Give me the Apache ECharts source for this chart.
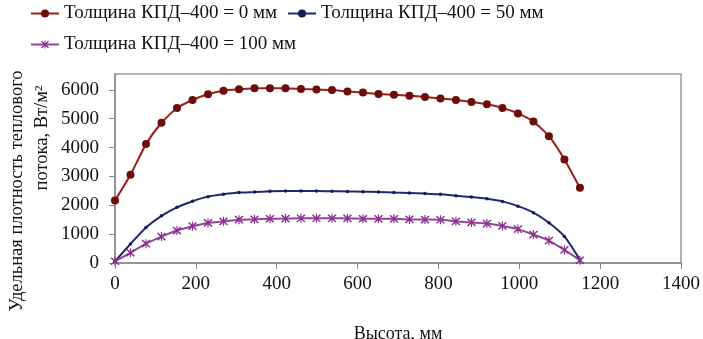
<!DOCTYPE html>
<html>
<head>
<meta charset="utf-8">
<script src="https://cdn.jsdelivr.net/npm/echarts@6/dist/echarts.min.js"></script>
<style>
  html, body { margin: 0; padding: 0; background: #fff; }
  #chart { width: 703px; height: 339px; }
</style>
</head>
<body>
<div id="chart"></div>
<script>
// Высота, мм
const heights = [0, 38.3, 76.7, 115, 153.3, 191.7, 230, 268.3, 306.7, 345, 383.3, 421.7, 460, 498.3,
  536.7, 575, 613.3, 651.7, 690, 728.3, 766.7, 805, 843.3, 881.7, 920, 958.3, 996.7, 1035,
  1073.3, 1111.7, 1150];

// Удельная плотность теплового потока, Вт/м²
const flux0 = [2170, 3060, 4120, 4860, 5370, 5650, 5850, 5970, 6020, 6055, 6060, 6060, 6030, 6010,
  5995, 5945, 5905, 5855, 5830, 5795, 5755, 5700, 5650, 5580, 5500, 5375, 5185, 4900, 4395, 3590, 2605];
const flux50 = [60, 660, 1230, 1635, 1930, 2140, 2300, 2380, 2440, 2460, 2485, 2495, 2495, 2495,
  2485, 2480, 2470, 2460, 2440, 2425, 2405, 2380, 2330, 2285, 2225, 2135, 1970, 1745, 1395, 920, 110];
const flux100 = [60, 355, 670, 915, 1125, 1275, 1390, 1445, 1500, 1515, 1533, 1540, 1550, 1550,
  1550, 1545, 1533, 1530, 1530, 1509, 1505, 1498, 1445, 1405, 1365, 1285, 1175, 985, 777, 453, 95];

const seriesNames = ['Толщина КПД–400 = 0 мм', 'Толщина КПД–400 = 50 мм', 'Толщина КПД–400 = 100 мм'];
const xTicks = [0, 200, 400, 600, 800, 1000, 1200, 1400];
const yTicks = [0, 1000, 2000, 3000, 4000, 5000, 6000];

const FONT = 'Liberation Serif';
const pair = vals => heights.map((h, i) => [h, vals[i]]);
const plain = v => String(v);

// asterisk marker: vertical bar plus two diagonals
const asterisk = 'path://M-0.6,-5 L0.6,-5 L0.6,5 L-0.6,5 Z ' +
  'M-3.45,-4.55 L4.55,3.45 L3.45,4.55 L-4.55,-3.45 Z ' +
  'M-4.55,3.45 L3.45,-4.55 L4.55,-3.45 L-3.45,4.55 Z';

const chart = echarts.init(document.getElementById('chart'), null, { renderer: 'canvas' });

const legendBase = {
  orient: 'horizontal',
  itemWidth: 28,
  itemHeight: 10,
  itemGap: 4,
  textStyle: { fontFamily: FONT, fontSize: 19, color: '#111' },
  padding: 0
};

chart.setOption({
  animation: false,
  backgroundColor: '#fff',
  grid: {
    left: 115, right: 22, top: 74, bottom: 76,
    outerBoundsMode: 'none', containLabel: false,
    show: true, borderColor: '#9a9a9a', borderWidth: 1.5, backgroundColor: 'transparent'
  },
  legend: [
    Object.assign({}, legendBase, { data: [seriesNames[0]], left: 30, top: 4 }),
    Object.assign({}, legendBase, { data: [seriesNames[1]], left: 287, top: 4 }),
    Object.assign({}, legendBase, { data: [seriesNames[2]], left: 30, top: 35 })
  ],
  xAxis: {
    type: 'value', min: 0, max: 1400, interval: 200,
    name: 'Высота, мм', nameLocation: 'middle', nameGap: 62,
    nameTextStyle: { fontFamily: FONT, fontSize: 18, color: '#111' },
    axisLine: { show: true, lineStyle: { color: '#8a8a8a', width: 1.5 } },
    axisTick: { show: true, inside: false, length: 6, lineStyle: { color: '#8a8a8a' } },
    axisLabel: { fontFamily: FONT, fontSize: 19, color: '#111', margin: 12, customValues: xTicks, formatter: plain },
    splitLine: { show: false }
  },
  yAxis: {
    type: 'value', min: 0, max: 6550,
    axisLine: { show: true, lineStyle: { color: '#8a8a8a', width: 1.5 } },
    axisTick: { show: true, inside: false, length: 6, lineStyle: { color: '#8a8a8a' }, customValues: yTicks },
    axisLabel: { fontFamily: FONT, fontSize: 19, color: '#111', margin: 16, customValues: yTicks, formatter: plain },
    splitLine: { show: false }
  },
  graphic: [
    {
      type: 'text', x: 17, y: 191, rotation: Math.PI / 2,
      style: {
        text: 'Удельная плотность теплового', fontFamily: FONT, fontSize: 18.5,
        fill: '#111', align: 'center', verticalAlign: 'middle'
      }
    },
    {
      type: 'text', x: 42, y: 138, rotation: Math.PI / 2,
      style: {
        text: 'потока, Вт/м²', fontFamily: FONT, fontSize: 18.5,
        fill: '#111', align: 'center', verticalAlign: 'middle'
      }
    }
  ],
  series: [
    {
      name: seriesNames[0], type: 'line', data: pair(flux0),
      symbol: 'circle', symbolSize: 8, smooth: 0.2,
      lineStyle: { color: '#9c1b1b', width: 2 },
      itemStyle: { color: '#6e0c0c', borderWidth: 0 },
      z: 3
    },
    {
      name: seriesNames[1], type: 'line', data: pair(flux50),
      symbol: 'circle', symbolSize: 3.5, smooth: 0.2,
      lineStyle: { color: '#1f2a6e', width: 2 },
      itemStyle: { color: '#141c55', borderWidth: 0 },
      z: 2
    },
    {
      name: seriesNames[2], type: 'line', data: pair(flux100),
      symbol: asterisk, symbolSize: 9, smooth: 0.2,
      lineStyle: { color: '#94449a', width: 2 },
      itemStyle: { color: '#8a3290', borderWidth: 0 },
      z: 2
    }
  ]
});
</script>
</body>
</html>
